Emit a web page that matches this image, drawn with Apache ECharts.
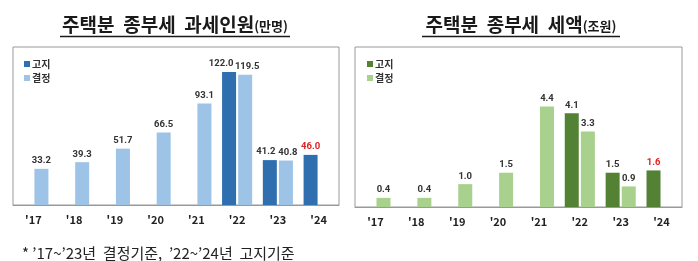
<!DOCTYPE html>
<html><head><meta charset="utf-8">
<script src="https://cdn.jsdelivr.net/npm/echarts@6/dist/echarts.min.js"></script>
<style>html,body{margin:0;padding:0;background:#fff}#c{width:698px;height:261px}</style>
</head><body><div id="c"></div>
<script>
const categories = ["'17","'18","'19","'20","'21","'22","'23","'24"];
const peopleNotice = [null,null,null,null,null,122.0,41.2,46.0];
const peopleFinal  = [33.2,39.3,51.7,66.5,93.1,119.5,40.8,null];
const taxNotice = [null,null,null,null,null,4.1,1.5,1.6];
const taxFinal  = [0.4,0.4,1.0,1.5,4.4,3.3,0.9,null];
const seriesNames = ['고지','결정'];

const FONT = '"Noto Sans CJK KR", "Noto Sans", sans-serif';
const NUM = 'Roboto, "Liberation Sans", sans-serif';
const C = {dBlue:'#2f6fb0', lBlue:'#9dc3e6', dGreen:'#548235', lGreen:'#a9d18e'};

// label nudges to keep neighbouring value labels apart (style only)
const nudge = {
  pN:{5:-8, 6:-4}, pF:{5:2, 6:2}, tN:{}, tF:{}
};
function mk(name, data, color, xi, redIdx, nd){
  return {
    type:'bar', name, xAxisIndex:xi, yAxisIndex:xi, barWidth:14, barGap:'15%',
    itemStyle:{color},
    label:{
      show:true, position:'top', distance:3,
      fontFamily:NUM, fontSize:9.5, fontWeight:'bold', color:'#333',
      formatter: p => p.value==null ? '' : (+p.value).toFixed(1)
    },
    data: data.map((v,i)=>{
      if (v==null) return v;
      const o = {value:v, label:{}};
      if (i===redIdx) o.label.color = '#e02020';
      if (nd[i]) o.label.offset = [nd[i],0];
      return o;
    }),
    animation:false
  };
}
const xAx = (gi)=>({
  type:'category', gridIndex:gi, data:categories,
  axisLine:{lineStyle:{color:'#999', width:1}}, axisTick:{show:false},
  axisLabel:{fontFamily:FONT, fontSize:11, fontWeight:'bold', color:'#222', margin:9}
});
const yAx = (gi,max)=>({type:'value', gridIndex:gi, min:0, max, show:false, splitLine:{show:false}});
const legendText = {fontFamily:FONT,fontSize:10,fontWeight:'bold',color:'#333',padding:[0,0,0,-3]};

const chart = echarts.init(document.getElementById('c'), null, {renderer:'canvas'});
chart.setOption({
  animation:false,
  title:[
    {text:'{a|주택분  종부세  과세인원}{b|(만명)}', left:175, top:15, padding:0, textAlign:'center',
     textStyle:{rich:{a:{fontFamily:FONT,fontSize:19,fontWeight:'bold',color:'#1a1a1a'},
                      b:{fontFamily:FONT,fontSize:13,color:'#1a1a1a',padding:[4,0,0,0]}}}},
    {text:'{a|주택분  종부세  세액}{b|(조원)}', left:521, top:15, padding:0, textAlign:'center',
     textStyle:{rich:{a:{fontFamily:FONT,fontSize:19,fontWeight:'bold',color:'#1a1a1a'},
                      b:{fontFamily:FONT,fontSize:13,color:'#1a1a1a',padding:[4,0,0,0]}}}},
    {text:'* ’17~’23년  결정기준,  ’22~’24년  고지기준', left:22, top:246, padding:0,
     textStyle:{fontFamily:FONT,fontSize:15,fontWeight:'normal',color:'#222',lineHeight:15}}
  ],
  graphic:[
    {type:'line', shape:{x1:60,y1:36.5,x2:290,y2:36.5}, style:{stroke:'#1a1a1a',lineWidth:1.5}},
    {type:'line', shape:{x1:422,y1:36.5,x2:620,y2:36.5}, style:{stroke:'#1a1a1a',lineWidth:1.5}}
  ],
  legend:[
    {left:24, top:59, padding:0, orient:'vertical', itemWidth:6, itemHeight:6, itemGap:4, icon:'rect',
     textStyle:legendText,
     data:[{name:seriesNames[0], itemStyle:{color:C.dBlue}},{name:seriesNames[1], itemStyle:{color:C.lBlue}}]},
    {left:367, top:59, padding:0, orient:'vertical', itemWidth:6, itemHeight:6, itemGap:4, icon:'rect',
     textStyle:legendText,
     data:[{name:seriesNames[0], itemStyle:{color:C.dGreen}},{name:seriesNames[1], itemStyle:{color:C.lGreen}}]}
  ],
  grid:[
    {left:13, right:359, top:47, bottom:56, show:true, borderColor:'#999', borderWidth:1, backgroundColor:'#fff'},
    {left:355, right:16, top:47, bottom:54, show:true, borderColor:'#999', borderWidth:1, backgroundColor:'#fff'}
  ],
  xAxis:[xAx(0), xAx(1)],
  yAxis:[yAx(0,145), yAx(1,7.0)],
  series:[
    mk(seriesNames[0], peopleNotice, C.dBlue, 0, 7, nudge.pN),
    mk(seriesNames[1], peopleFinal, C.lBlue, 0, -1, nudge.pF),
    mk(seriesNames[0], taxNotice, C.dGreen, 1, 7, nudge.tN),
    mk(seriesNames[1], taxFinal, C.lGreen, 1, -1, nudge.tF)
  ]
});
</script></body></html>
